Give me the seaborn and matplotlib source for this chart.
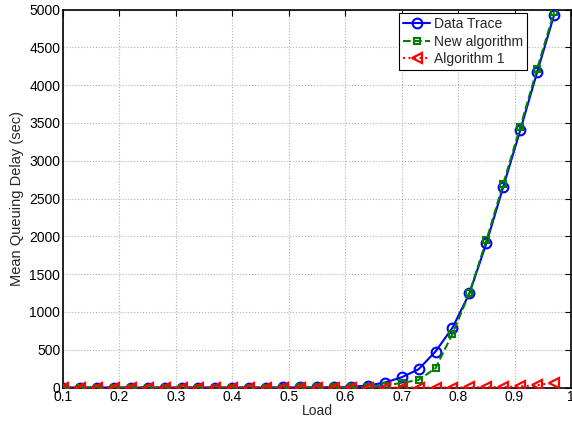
import numpy as np
import pandas as pd
import matplotlib
matplotlib.use('Agg')
import matplotlib.pyplot as plt
import seaborn as sns

load = [0.10, 0.13, 0.16, 0.19, 0.22, 0.25, 0.28, 0.31, 0.34, 0.37,
        0.40, 0.43, 0.46, 0.49, 0.52, 0.55, 0.58, 0.61, 0.64, 0.67,
        0.70, 0.73, 0.76, 0.79, 0.82, 0.85, 0.88, 0.91, 0.94, 0.97]
data_trace = [0, 0, 0, 0, 0, 0, 0, 0, 0, 0,
              0, 0, 0, 1, 1, 2, 4, 10, 26, 65,
              135, 242, 476, 790, 1245, 1905, 2655, 3400, 4170, 4925]
new_algorithm = [0, 0, 0, 0, 0, 0, 0, 0, 0, 0,
                 0, 0, 0, 0, 1, 1, 2, 5, 10, 25,
                 60, 100, 255, 710, 1250, 1945, 2695, 3443, 4215, 4965]
algorithm_1 = [0, 0, 0, 0, 0, 0, 0, 0, 0, 0,
               0, 0, 0, 0, 0, 0, 0, 0, 0, 0,
               0, 0, 0, 0, 1, 3, 8, 15, 30, 65]

sns.set_style("white")
plt.rcParams['font.family'] = ['Liberation Sans', 'DejaVu Sans']

fig = plt.figure(figsize=(5.72, 4.22), dpi=100)
ax = fig.add_axes([63 / 572, 34.5 / 422, (571 - 63) / 572, (387.5 - 9.5) / 422])

sns.lineplot(x=load, y=data_trace, ax=ax, color='blue', linestyle='-', lw=1.5,
             marker='o', markersize=7, markerfacecolor='none', markeredgecolor='blue',
             markeredgewidth=1.5, label='Data Trace', zorder=3)
sns.lineplot(x=load, y=new_algorithm, ax=ax, color='#008000', linestyle='--', lw=1.5,
             marker='s', markersize=5, markerfacecolor='none', markeredgecolor='#008000',
             markeredgewidth=1.5, label='New algorithm', zorder=4)
sns.lineplot(x=load, y=algorithm_1, ax=ax, color='red', linestyle=':', lw=1.5,
             marker='<', markersize=7.5, markerfacecolor='none', markeredgecolor='red',
             markeredgewidth=1.6, label='Algorithm 1', zorder=5)

ax.set_xlim(0.1, 1.0)
ax.set_ylim(0, 5000)
ax.set_xticks([0.1, 0.2, 0.3, 0.4, 0.5, 0.6, 0.7, 0.8, 0.9, 1.0])
ax.set_xticklabels(['0.1', '0.2', '0.3', '0.4', '0.5', '0.6', '0.7', '0.8', '0.9', '1'])
ax.set_yticks(range(0, 5001, 500))
ax.grid(True, linestyle=':', color='#b0b0b0', lw=0.8)
ax.tick_params(direction='in', length=4, width=0.8, top=True, right=True,
               labelsize=10, pad=2, colors='black')
for s in ax.spines.values():
    s.set_visible(True)
    s.set_color('black')
    s.set_linewidth(1.2)

ax.set_xlabel('Load', fontsize=10, labelpad=0)
ax.set_ylabel('Mean Queuing Delay (sec)', fontsize=10.5, labelpad=4)

leg = ax.legend(loc='upper right', bbox_to_anchor=(0.914, 0.991), fontsize=10,
                frameon=True, fancybox=False, edgecolor='black', framealpha=1,
                handlelength=1.9, borderpad=0.3, labelspacing=0.25, handletextpad=0.3,
                borderaxespad=0)
leg.get_frame().set_linewidth(0.8)

fig.savefig('out.png', dpi=100)
